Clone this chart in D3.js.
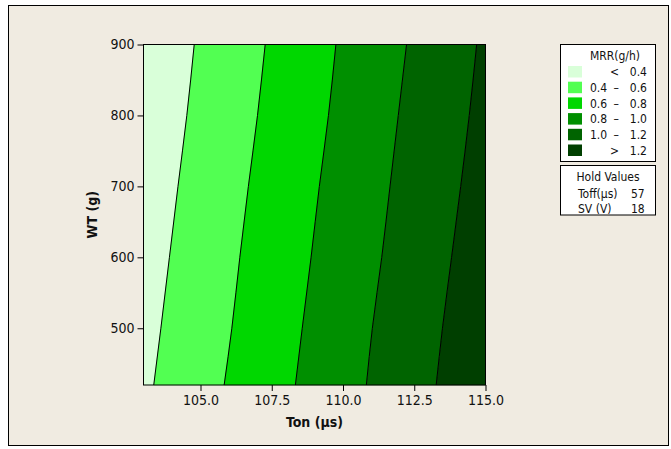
<!DOCTYPE html>
<html>
<head>
<meta charset="utf-8">
<script src="https://cdn.jsdelivr.net/npm/d3@7"></script>
<style>
  body { margin: 0; background: #fff; }
  text { font-family: "DejaVu Sans Condensed", "DejaVu Sans", sans-serif; fill: #111; }
</style>
</head>
<body>
<div id="chart"></div>
<script>
// contour levels and their boundary lines (Ton at each WT)
var wtValues = [420, 500, 600, 700, 800, 900];
var level04 = [103.36, 103.61, 103.91, 104.21, 104.52, 104.78];
var level06 = [105.83, 106.10, 106.38, 106.68, 107.00, 107.27];
var level08 = [108.33, 108.57, 108.88, 109.17, 109.49, 109.75];
var level10 = [110.82, 111.03, 111.36, 111.65, 111.94, 112.23];
var level12 = [113.27, 113.49, 113.81, 114.13, 114.43, 114.69];

var bandLabels = [["", "<", "0.4"], ["0.4", "–", "0.6"], ["0.6", "–", "0.8"],
                  ["0.8", "–", "1.0"], ["1.0", "–", "1.2"], ["", ">", "1.2"]];
var bandColors = ["#d9ffd9", "#52ff52", "#00d700", "#008f00", "#006400", "#003f00"];

var xTicks = [105, 107.5, 110, 112.5, 115];
var yTicks = [500, 600, 700, 800, 900];
var holdNames = ["Toff(μs)", "SV (V)"];
var holdValues = ["57", "18"];

var width = 671, height = 449;
var svg = d3.select("#chart").append("svg")
  .attr("width", width).attr("height", height);

// outer frame
svg.append("rect")
  .attr("x", 8.5).attr("y", 5.5).attr("width", 660).attr("height", 440)
  .attr("fill", "#f0ebe1").attr("stroke", "#000").attr("stroke-width", 1);

var x = d3.scaleLinear().domain([103, 115]).range([143.5, 485.5]);
var y = d3.scaleLinear().domain([420, 900]).range([385, 44.5]);

var levels = [level04, level06, level08, level10, level12];
var leftEdge = wtValues.map(() => 103);
var rightEdge = wtValues.map(() => 115);
var bounds = [leftEdge].concat(levels, [rightEdge]);

// filled bands
for (var i = 0; i < 6; i++) {
  var pts = [];
  bounds[i].forEach((t, j) => pts.push([x(t), y(wtValues[j])]));
  for (var j = wtValues.length - 1; j >= 0; j--) pts.push([x(bounds[i + 1][j]), y(wtValues[j])]);
  svg.append("path")
    .attr("d", d3.line()(pts) + "Z")
    .attr("fill", bandColors[i])
    .attr("stroke", bandColors[i]).attr("stroke-width", 0.5);
}

// contour lines
var line = d3.line().x(d => x(d[0])).y(d => y(d[1])).curve(d3.curveMonotoneY);
levels.forEach(function(lv) {
  svg.append("path")
    .datum(lv.map((t, j) => [t, wtValues[j]]))
    .attr("d", line)
    .attr("fill", "none").attr("stroke", "#000").attr("stroke-width", 1);
});

// plot frame
svg.append("rect")
  .attr("x", x(103)).attr("y", y(900))
  .attr("width", x(115) - x(103)).attr("height", y(420) - y(900))
  .attr("fill", "none").attr("stroke", "#000");

// axes
var xAxis = svg.append("g")
  .attr("transform", "translate(0," + y(420) + ")")
  .call(d3.axisBottom(x).tickValues(xTicks).tickFormat(d3.format(".1f")).tickSize(6).tickPadding(4));
var yAxis = svg.append("g")
  .attr("transform", "translate(" + x(103) + ",0)")
  .call(d3.axisLeft(y).tickValues(yTicks).tickSize(6).tickPadding(3));
[xAxis, yAxis].forEach(function(a) {
  a.select(".domain").remove();
  a.selectAll("text").attr("font-size", 14)
    .style("font-family", "'DejaVu Sans Condensed', 'DejaVu Sans', sans-serif").attr("fill", "#111");
  a.selectAll("line").attr("stroke", "#000");
});

svg.append("text")
  .attr("x", (x(103) + x(115)) / 2).attr("y", 427)
  .attr("text-anchor", "middle").attr("font-size", 14).attr("font-weight", "bold")
  .text("Ton (μs)");
svg.append("text")
  .attr("transform", "translate(97," + (y(420) + y(900)) / 2 + ") rotate(-90)")
  .attr("text-anchor", "middle").attr("font-size", 14).attr("font-weight", "bold")
  .text("WT (g)");

// legend
var lg = svg.append("g");
lg.append("rect").attr("x", 560.5).attr("y", 44.5).attr("width", 95).attr("height", 117)
  .attr("fill", "#fff").attr("stroke", "#000");
lg.append("text").attr("x", 615).attr("y", 59.5).attr("text-anchor", "middle")
  .attr("font-size", 12).text("MRR(g/h)");
bandLabels.forEach(function(b, i) {
  var cy = 71.7 + i * 15.7;
  lg.append("rect").attr("x", 568).attr("y", cy - 5.7).attr("width", 14).attr("height", 11.5)
    .attr("fill", bandColors[i]);
  lg.append("text").attr("x", 590).attr("y", cy + 4.5).attr("font-size", 12).text(b[0]);
  lg.append("text").attr("x", 619).attr("y", cy + 4.5).attr("text-anchor", "end")
    .attr("font-size", 12).text(b[1]);
  lg.append("text").attr("x", 647).attr("y", cy + 4.5).attr("text-anchor", "end")
    .attr("font-size", 12).text(b[2]);
});

lg.append("rect").attr("x", 560.5).attr("y", 165.5).attr("width", 95).attr("height", 49.5)
  .attr("fill", "#fff").attr("stroke", "#000");
lg.append("text").attr("x", 608).attr("y", 181).attr("text-anchor", "middle")
  .attr("font-size", 12).text("Hold Values");
holdNames.forEach(function(n, i) {
  var by = 197.5 + i * 15;
  lg.append("text").attr("x", 578).attr("y", by).attr("font-size", 12).text(n);
  lg.append("text").attr("x", 631).attr("y", by).attr("font-size", 12).text(holdValues[i]);
});
</script>
</body>
</html>
